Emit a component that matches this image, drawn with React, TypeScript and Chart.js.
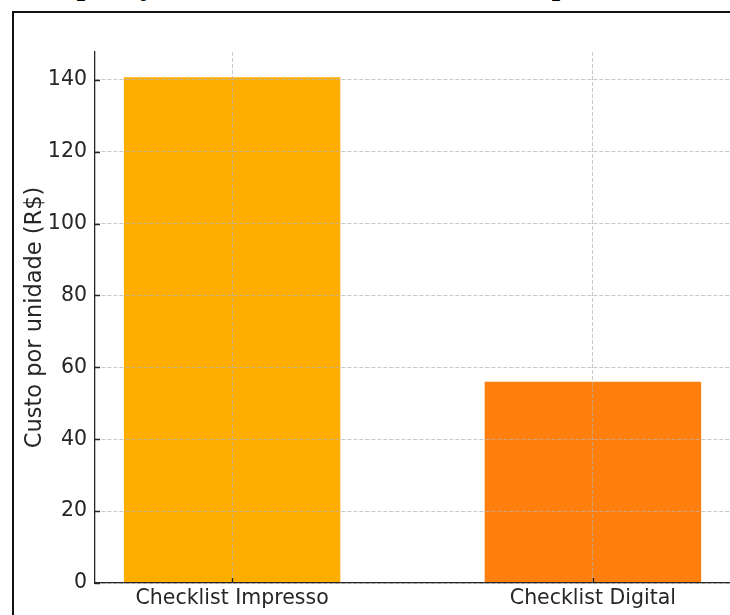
import React, { useEffect, useRef } from "react";
import { Chart, registerables } from "chart.js";

Chart.register(...registerables);

// Unit cost comparison data
const categories: string[] = ["Checklist Impresso", "Checklist Digital"];
const unitCost: number[] = [140.7, 56.0];
const barColors: string[] = ["#FFAE00", "#FF7F0E"];
const yTickStep = 20;

const pageTitle = "Comparação de Custo Total, Checklist Impresso vs. Checklist Digital";
const yAxisTitle = "Custo por unidade (R$)";

const TICK_FONT = { family: "'DejaVu Sans', sans-serif", size: 20.5 };
const INK = "#262626";
const GRID = "rgba(176,176,176,0.7)";

// Short inward tick marks on both axes, drawn over everything else
const inwardTicks = {
  id: "inwardTicks",
  afterDraw(chart: any) {
    const { ctx, chartArea, scales } = chart;
    const len = 5;
    ctx.save();
    ctx.strokeStyle = INK;
    ctx.lineWidth = 1.3;
    ctx.setLineDash([]);
    ctx.beginPath();
    scales.y.ticks.forEach((t: any) => {
      const y = Math.round(scales.y.getPixelForValue(t.value)) + 0.5;
      ctx.moveTo(chartArea.left, y);
      ctx.lineTo(chartArea.left + len, y);
    });
    scales.x.ticks.forEach((t: any) => {
      const x = Math.round(scales.x.getPixelForValue(t.value)) + 0.5;
      ctx.moveTo(x, chartArea.bottom);
      ctx.lineTo(x, chartArea.bottom - len);
    });
    ctx.stroke();
    ctx.restore();
  },
};

function CostChart() {
  const ref = useRef<HTMLCanvasElement | null>(null);

  useEffect(() => {
    if (!ref.current) return;
    const yMax = Math.max(...unitCost) * 1.05;
    const chart = new Chart(ref.current, {
      type: "bar",
      data: {
        datasets: [
          {
            data: unitCost.map((v, i) => ({ x: i, y: v })),
            backgroundColor: barColors,
            borderWidth: 0,
            barPercentage: 0.6,
            categoryPercentage: 1.0,
          },
        ],
      },
      options: {
        responsive: false,
        animation: false,
        devicePixelRatio: 1,
        layout: { padding: { top: 52, left: 0, right: 0, bottom: 0 } },
        plugins: {
          legend: { display: false },
          tooltip: { enabled: false },
        },
        scales: {
          x: {
            type: "linear",
            offset: false,
            min: -0.38,
            max: categories.length - 1 + 0.38,
            afterFit: (s: any) => {
              s.height = 32;
            },
            afterBuildTicks: (s: any) => {
              s.ticks = categories.map((_, i) => ({ value: i }));
            },
            grid: {
              offset: false,
              color: GRID,
              lineWidth: 1,
              drawTicks: false,
              z: 1,
            },
            border: { display: true, color: INK, width: 1.3, dash: [4, 2], z: 2 },
            ticks: {
              font: TICK_FONT,
              color: INK,
              padding: 3,
              maxRotation: 0,
              autoSkip: false,
              callback: (v: any) => categories[Math.round(Number(v))] ?? "",
            },
          },
          y: {
            type: "linear",
            min: 0,
            max: yMax,
            afterFit: (s: any) => {
              s.width = 95;
            },
            grid: {
              color: GRID,
              lineWidth: 1,
              drawTicks: false,
              z: 1,
            },
            border: { display: true, color: INK, width: 1.3, dash: [4, 2], z: 2 },
            ticks: {
              stepSize: yTickStep,
              includeBounds: false,
              font: TICK_FONT,
              color: INK,
              padding: 8,
            },
            title: {
              display: true,
              text: yAxisTitle,
              font: { family: "'DejaVu Sans', sans-serif", size: 22.5 },
              color: INK,
              padding: { top: 22, bottom: 0 },
            },
          },
        },
      },
      plugins: [inwardTicks],
    } as any);
    return () => chart.destroy();
  }, []);

  return (
    <canvas
      ref={ref}
      width={730}
      height={615}
      style={{ position: "absolute", left: 0, top: 0, width: 730, height: 615 }}
    />
  );
}

export default function App() {
  return (
    <div
      style={{
        position: "fixed",
        left: 0,
        top: 0,
        width: 730,
        height: 615,
        overflow: "hidden",
        background: "#ffffff",
      }}
    >
      <div
        style={{
          position: "absolute",
          left: 15,
          top: -30,
          whiteSpace: "nowrap",
          fontFamily: "'Liberation Serif', serif",
          fontWeight: "bold",
          fontSize: 30,
          lineHeight: "30px",
          color: "#000",
        }}
      >
        {pageTitle}
      </div>
      <div
        style={{
          position: "absolute",
          left: 12,
          top: 11,
          width: 760,
          height: 700,
          borderLeft: "2px solid #111",
          borderTop: "2px solid #111",
        }}
      />
      <CostChart />
    </div>
  );
}
